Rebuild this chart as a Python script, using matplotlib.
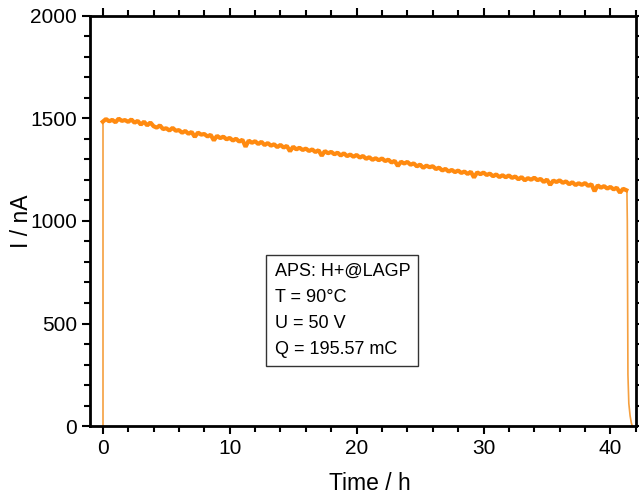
import numpy as np
import matplotlib
matplotlib.use("Agg")
import matplotlib.pyplot as plt
from matplotlib.ticker import MultipleLocator

plt.rcParams['font.family'] = ['Liberation Sans', 'DejaVu Sans']

# current readings every 0.25 h (nA)
dt = 0.25
current = [
    1484, 1497, 1486, 1493, 1481, 1499, 1488, 1492,   # 0-2 h
    1483, 1495, 1479, 1488, 1470, 1484, 1466, 1480,   # 2-4 h
    1462, 1455, 1466, 1448, 1452, 1441, 1454, 1440,   # 4-6 h
    1443, 1430, 1439, 1425, 1434, 1410, 1431, 1421,   # 6-8 h
    1424, 1412, 1420, 1393, 1415, 1404, 1411, 1398,   # 8-10 h
    1405, 1392, 1401, 1387, 1396, 1362, 1392, 1381,   # 10-12 h
    1389, 1375, 1386, 1370, 1380, 1367, 1374, 1360,   # 12-14 h
    1371, 1358, 1366, 1340, 1362, 1349, 1357, 1346,   # 14-16 h
    1353, 1341, 1349, 1336, 1345, 1318, 1341, 1330,   # 16-18 h
    1337, 1325, 1333, 1319, 1330, 1316, 1324, 1313,   # 18-20 h
    1322, 1309, 1317, 1303, 1311, 1298, 1306, 1296,   # 20-22 h
    1305, 1292, 1299, 1285, 1293, 1268, 1289, 1280,   # 22-24 h
    1288, 1274, 1281, 1266, 1275, 1259, 1270, 1262,   # 24-26 h
    1267, 1253, 1260, 1246, 1254, 1241, 1249, 1238,   # 26-28 h
    1246, 1234, 1241, 1229, 1240, 1212, 1237, 1228,   # 28-30 h
    1236, 1224, 1231, 1218, 1227, 1214, 1223, 1213,   # 30-32 h
    1222, 1210, 1217, 1203, 1214, 1198, 1209, 1201,   # 32-34 h
    1211, 1199, 1205, 1190, 1202, 1176, 1197, 1190,   # 34-36 h
    1198, 1186, 1193, 1179, 1189, 1175, 1184, 1176,   # 36-38 h
    1185, 1171, 1179, 1145, 1174, 1162, 1170, 1158,   # 38-40 h
    1166, 1154, 1162, 1138, 1157, 1150,               # 40-41.25 h
]
t_run = np.arange(len(current)) * dt

# switch-on and switch-off parts
start_t = [0.0, 0.0]
start_i = [0, 1484]
end_t = [41.25, 41.30, 41.33, 41.38, 41.45, 41.55, 41.65, 41.72]
end_i = [1150, 1148, 1000, 250, 110, 50, 15, 0]

fig = plt.figure(figsize=(6.39, 4.96), dpi=100)
ax = fig.add_axes([0.141, 0.141, 0.854, 0.827])

orange = '#FF8A10'
ax.plot(start_t, start_i, color='#F5A040', lw=1.2)
ax.plot(end_t, end_i, color='#F5A040', lw=1.2)
ax.plot(t_run, current, color=orange, lw=3.0, solid_joinstyle='bevel')

ax.set_xlim(-1, 42)
ax.set_ylim(0, 2000)
ax.xaxis.set_major_locator(MultipleLocator(10))
ax.xaxis.set_minor_locator(MultipleLocator(2))
ax.yaxis.set_major_locator(MultipleLocator(500))
ax.yaxis.set_minor_locator(MultipleLocator(100))
ax.tick_params(which='both', direction='out', top=True, right=True, width=1.5, labelsize=15)
ax.tick_params(which='major', length=6)
ax.tick_params(which='minor', length=4)
for s in ax.spines.values():
    s.set_linewidth(2)

ax.set_xlabel('Time / h', fontsize=16.5)
ax.set_ylabel('I / nA', fontsize=16.5)
ax.xaxis.set_label_coords(0.513, -0.112)
ax.yaxis.set_label_coords(-0.104, 0.5)

info = "APS: H+@LAGP\nT = 90°C\nU = 50 V\nQ = 195.57 mC"
ax.text(0.338, 0.398, info, transform=ax.transAxes, fontsize=13, va='top', ha='left',
        linespacing=1.7,
        bbox=dict(boxstyle='square,pad=0.45', fc='white', ec='#333333', lw=1))

fig.savefig('out.png', dpi=100)
